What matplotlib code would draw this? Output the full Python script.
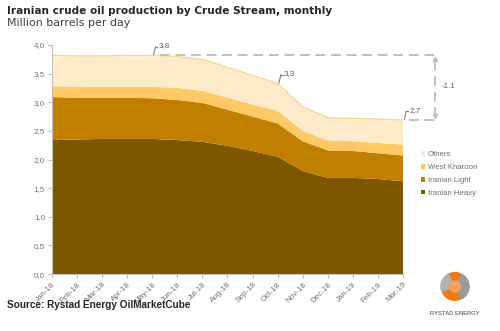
import matplotlib
matplotlib.use('Agg')
import matplotlib.pyplot as plt
from matplotlib.patches import Wedge, Circle

# data (million barrels per day)
months = ['Jan-18', 'Feb-18', 'Mar-18', 'Apr-18', 'May-18', 'Jun-18', 'Jul-18', 'Aug-18',
          'Sep-18', 'Oct-18', 'Nov-18', 'Dec-18', 'Jan-19', 'Feb-19', 'Mar-19']
iranian_heavy = [2.34, 2.35, 2.36, 2.36, 2.36, 2.34, 2.31, 2.24, 2.15, 2.05, 1.80, 1.68, 1.68, 1.66, 1.62]
iranian_light = [0.75, 0.73, 0.72, 0.72, 0.71, 0.70, 0.68, 0.63, 0.60, 0.58, 0.52, 0.48, 0.47, 0.45, 0.45]
west_kharoon = [0.19, 0.19, 0.19, 0.19, 0.20, 0.21, 0.21, 0.21, 0.21, 0.22, 0.18, 0.17, 0.17, 0.18, 0.19]
others = [0.54, 0.54, 0.54, 0.55, 0.55, 0.55, 0.55, 0.53, 0.51, 0.48, 0.42, 0.40, 0.40, 0.42, 0.43]
series_names = ['Iranian Heavy', 'Iranian Light', 'West Kharoon', 'Others']
colors = ['#7f5600', '#c17f00', '#fec865', '#fdebc9']
labels_pts = {'3,8': 4, '3,3': 9, '2,7': 14}
change_label = '-1.1'

fig = plt.figure(figsize=(5, 3.31), dpi=100)
ax = fig.add_axes([0.104, 0.172, 0.702, 0.692])

x = list(range(len(months)))
polys = ax.stackplot(x, iranian_heavy, iranian_light, west_kharoon, others,
                     colors=colors, labels=series_names, linewidth=0)
total = [a + b + c + d for a, b, c, d in zip(iranian_heavy, iranian_light, west_kharoon, others)]
ax.plot(x, total, color='#f6d48a', lw=0.8)

ax.set_xlim(0, 14)
ax.set_ylim(0, 4)
ax.set_xticks(x)
ax.set_xticklabels(months, rotation=45, ha='right', rotation_mode='anchor',
                   fontsize=5.8, color='#6f6f6f', family='Liberation Sans')
yt = [0, 0.5, 1, 1.5, 2, 2.5, 3, 3.5, 4]
ax.set_yticks(yt)
ax.set_yticklabels([f'{v:.1f}'.replace('.', ',') for v in yt],
                   fontsize=5.8, color='#6f6f6f', family='Liberation Sans')
for s in ['top', 'right']:
    ax.spines[s].set_visible(False)
for s in ['left', 'bottom']:
    ax.spines[s].set_color('#bfbfbf')
    ax.spines[s].set_linewidth(0.8)
ax.tick_params(colors='#bfbfbf', length=3, width=0.8, pad=2)
ax.tick_params(axis='both', labelcolor='#6f6f6f')

# value annotations
gray = '#7f7f7f'
dash = dict(color='#bfbfbf', lw=1.4, ls=(0, (5, 3)), clip_on=False)
for lab, i in labels_pts.items():
    y0 = total[i]
    ax.plot([i + 0.05, i + 0.13], [y0 + 0.01, y0 + 0.15], color=gray, lw=0.8, clip_on=False)
    ax.plot([i + 0.13, i + 0.2], [y0 + 0.15, y0 + 0.15], color=gray, lw=0.8, clip_on=False)
    ax.text(i + 0.25, y0 + 0.17, lab, fontsize=5.8, color='#595959',
            family='Liberation Sans', ha='left', va='center')

x_right = 15.28
top_y = total[4]
low_y = total[14]
ax.plot([4.3, x_right], [top_y, top_y], **dash)
ax.plot([14.25, x_right], [low_y, low_y], **dash)
ax.plot([x_right, x_right], [low_y + 0.05, top_y - 0.05], **dash)
ax.plot([x_right], [top_y - 0.07], marker='^', ms=3, color='#bfbfbf', clip_on=False)
ax.plot([x_right], [low_y + 0.07], marker='v', ms=3, color='#bfbfbf', clip_on=False)
ax.text(x_right + 0.25, (top_y + low_y) / 2 + 0.02, change_label, fontsize=5.8,
        color='#595959', family='Liberation Sans', ha='left', va='center')

# legend
handles, labs = ax.get_legend_handles_labels()
leg = fig.legend(handles[::-1], labs[::-1], loc='upper left', bbox_to_anchor=(0.828, 0.565),
                 frameon=False, handlelength=0.55, handleheight=0.55,
                 handletextpad=0.35, labelspacing=0.75,
                 prop={'family': 'Liberation Sans', 'size': 5.6})
for t in leg.get_texts():
    t.set_color('#6f6f6f')

# titles
fig.text(0.014, 0.968, 'Iranian crude oil production by Crude Stream, monthly',
         fontsize=7.6, fontweight='bold', color='#262626', family='DejaVu Sans', va='center')
fig.text(0.014, 0.930, 'Million barrels per day', fontsize=7.9, color='#404040',
         family='DejaVu Sans', va='center')
fig.text(0.014, 0.078, 'Source: Rystad Energy OilMarketCube', fontsize=7.2,
         fontweight='bold', color='#262626', family='Liberation Sans', va='center')

# logo
lax = fig.add_axes([0.86, 0.03, 0.1, 0.151])
lax.set_xlim(-1, 1)
lax.set_ylim(-1.6, 1)
lax.set_aspect('equal')
lax.axis('off')
lax.add_patch(Circle((0, 0.2), 0.72, color='#f07a1a'))
lax.add_patch(Wedge((0, 0.2), 0.72, 300, 60, color='#9a9a9a'))
lax.add_patch(Wedge((0, 0.2), 0.72, 120, 200, color='#b0b0b0'))
lax.add_patch(Circle((0, 0.2), 0.28, color='#f5a05a'))
lax.text(0, -1.2, 'RYSTAD ENERGY', fontsize=4.2, color='#404040', ha='center', va='center',
         family='Liberation Sans')

fig.savefig('out.png', dpi=100)
